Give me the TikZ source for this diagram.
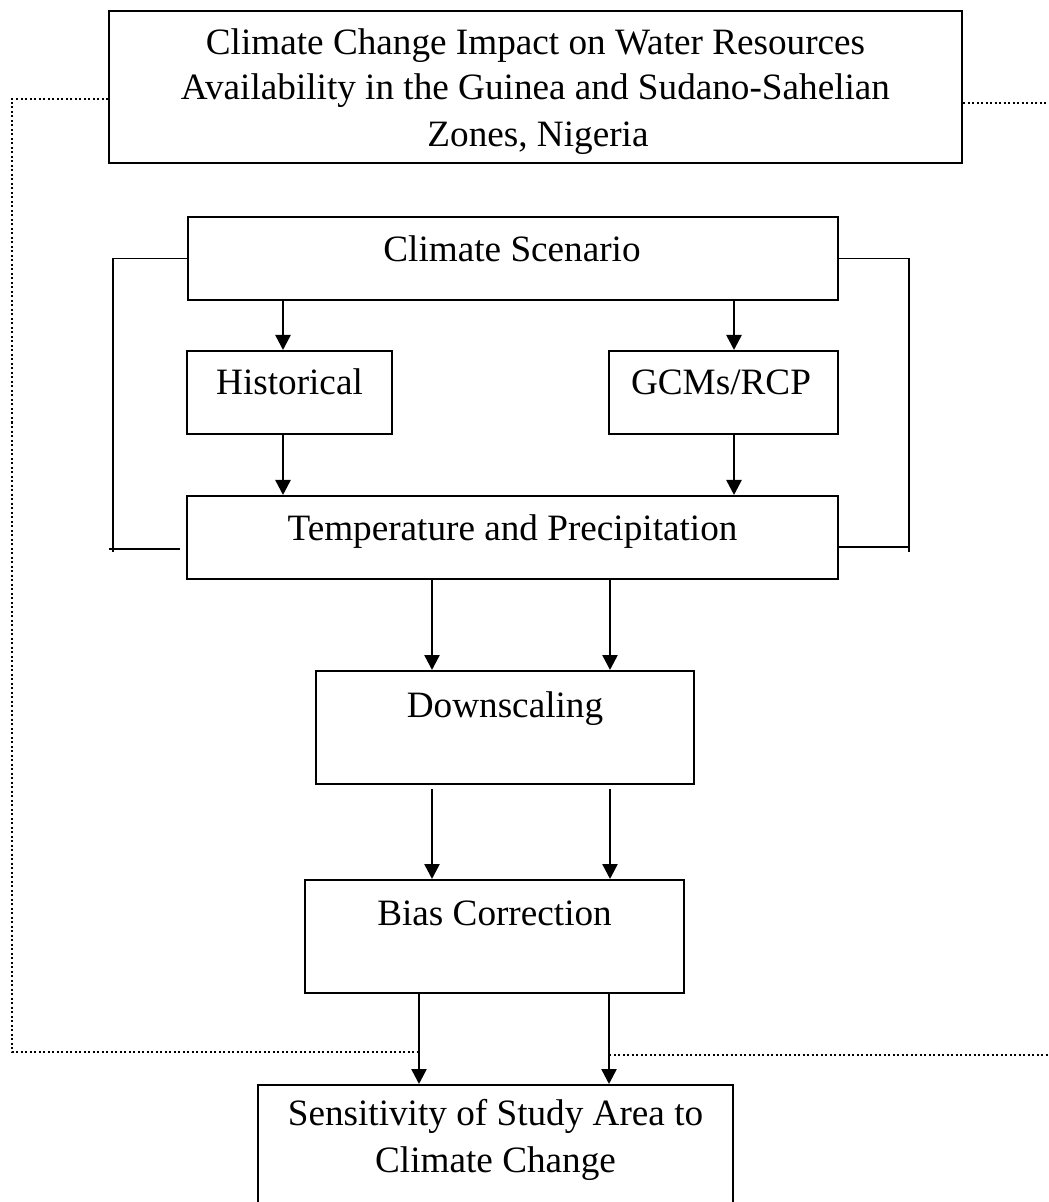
\documentclass[tikz,border=0pt]{standalone}
\usepackage{fontspec}
\setmainfont{Liberation Serif}
\usetikzlibrary{arrows.meta}
\begin{document}
\begin{tikzpicture}[x=0.5pt,y=-0.5pt,
  box/.style={draw,line width=1pt,inner sep=0pt,rectangle},
  txt/.style={anchor=base,inner sep=0pt,font=\fontsize{18.6}{23.5}\selectfont},
  arr/.style={line width=1.25pt,-{Triangle[width=7.5pt,length=7.5pt]}},
  brk/.style={line width=0.9pt},
  dotline/.style={line width=1pt,dash pattern=on 1pt off 1.25pt}]
\useasboundingbox (0,0) rectangle (1048,1202);

% boxes
\node[box,minimum width=426.5pt,minimum height=76pt] (title) at (535.5,87) {};
\node[box,minimum width=325pt,minimum height=41.5pt] (cs) at (513,258.5) {};
\node[box,minimum width=102.5pt,minimum height=41.5pt] (hist) at (289.5,392.5) {};
\node[box,minimum width=114.5pt,minimum height=41.5pt] (gcm) at (723.5,392.5) {};
\node[box,minimum width=325.5pt,minimum height=41.5pt] (temp) at (512.5,537.5) {};
\node[box,minimum width=189pt,minimum height=56.5pt] (down) at (505,727.5) {};
\node[box,minimum width=189.5pt,minimum height=56.5pt] (bias) at (494.5,936.5) {};
\node[box,minimum width=237.5pt,minimum height=65pt] (sens) at (495.5,1150) {};

% texts
\node[txt] (titleA) at (535.5,55) {Climate Change Impact on Water Resources};
\node[txt] (titleB) at (535.5,100) {Availability in the Guinea and Sudano-Sahelian};
\node[txt] (titleC) at (538,147) {Zones, Nigeria};
\node[txt] (csT) at (512,262) {Climate Scenario};
\node[txt] (histT) at (289.5,395) {Historical};
\node[txt] (gcmT) at (721,395) {GCMs/RCP};
\node[txt] (tempT) at (512.5,540) {Temperature and Precipitation};
\node[txt] (downT) at (505,717) {Downscaling};
\node[txt] (biasT) at (494.5,925) {Bias Correction};
\node[txt] (sensA) at (495.5,1125) {Sensitivity of Study Area to};
\node[txt] (sensB) at (495.5,1172) {Climate Change};

% x positions of arrows
\coordinate (xa) at (283,0);
\coordinate (xb) at (734,0);
\coordinate (xc) at (432,0);
\coordinate (xd) at (610,0);
\coordinate (xe) at (419,0);
\coordinate (xf) at (609,0);

\draw[arr] (cs.south -| xa) -- (hist.north -| xa);
\draw[arr] (cs.south -| xb) -- (gcm.north -| xb);
\draw[arr] (hist.south -| xa) -- (temp.north -| xa);
\draw[arr] (gcm.south -| xb) -- (temp.north -| xb);
\draw[arr] (temp.south -| xc) -- (down.north -| xc);
\draw[arr] (temp.south -| xd) -- (down.north -| xd);
\draw[arr] ([yshift=-2pt]down.south -| xc) -- (bias.north -| xc);
\draw[arr] ([yshift=-2pt]down.south -| xd) -- (bias.north -| xd);
\draw[arr] (bias.south -| xe) -- (sens.north -| xe);
\draw[arr] (bias.south -| xf) -- (sens.north -| xf);

% side brackets
\coordinate (lb) at (113,552);
\coordinate (lh1) at (109,549);
\coordinate (lh2) at (180,549);
\coordinate (rb) at (909,552);
\coordinate (rh) at (909,547);
\draw[brk] (cs.west) -| (lb);
\draw[brk] (lh1) -- (lh2);
\draw[brk] (cs.east) -| (rb);
\draw[brk] (temp.east |- rh) -- (rh);

% dotted lines
\coordinate (ty) at (0,99);
\coordinate (dl1) at (12,1052);
\coordinate (dlend) at (417,1052);
\coordinate (ty2) at (1048,103);
\coordinate (dr1) at (609,1055);
\coordinate (dr2) at (1048,1055);
\draw[dotline] (title.west |- ty) -| (dl1) -- (dlend);
\draw[dotline] (title.east |- ty2) -- (ty2);
\draw[dotline] (dr1) -- (dr2);
\end{tikzpicture}
\end{document}
